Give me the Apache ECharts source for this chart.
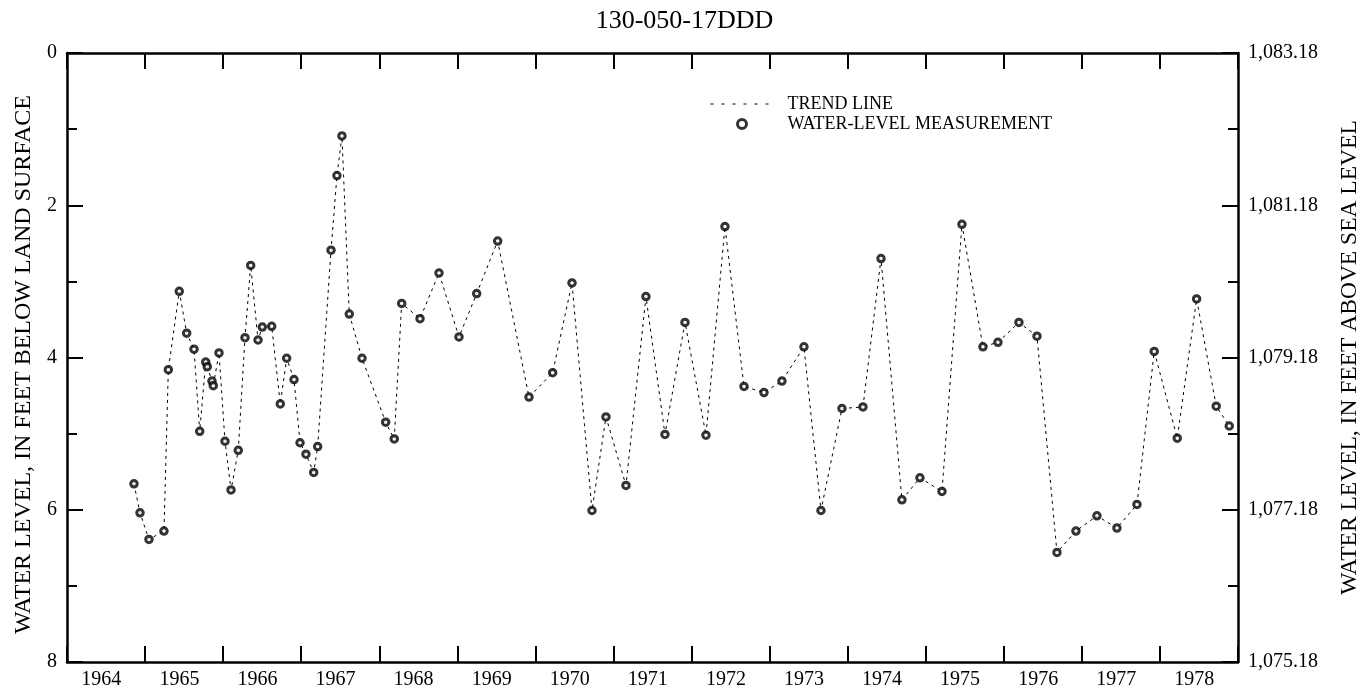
<!DOCTYPE html>
<html>
<head>
<meta charset="utf-8">
<script src="https://cdn.jsdelivr.net/npm/echarts@6/dist/echarts.min.js"></script>
<style>
  html, body { margin: 0; padding: 0; background: #fff; }
  #chart { width: 1369px; height: 694px; }
</style>
</head>
<body>
<div id="chart"></div>
<script>
// well 130-050-17DDD, measurement dates as decimal years
var dates = [
  1964.858, 1964.935, 1965.050, 1965.242, 1965.298, 1965.438, 1965.533, 1965.627,
  1965.700, 1965.777, 1965.797, 1965.857, 1965.874, 1965.947, 1966.024, 1966.101,
  1966.194, 1966.280, 1966.353, 1966.447, 1966.502, 1966.622, 1966.732, 1966.814,
  1966.908, 1966.985, 1967.061, 1967.160, 1967.211, 1967.382, 1967.458, 1967.522,
  1967.616, 1967.779, 1968.082, 1968.192, 1968.287, 1968.522, 1968.765, 1969.021,
  1969.248, 1969.517, 1969.918, 1970.221, 1970.469, 1970.725, 1970.904, 1971.160,
  1971.416, 1971.660, 1971.916, 1972.185, 1972.428, 1972.672, 1972.928, 1973.158,
  1973.440, 1973.658, 1973.927, 1974.196, 1974.427, 1974.695, 1974.926, 1975.208,
  1975.464, 1975.733, 1975.925, 1976.194, 1976.425, 1976.681, 1976.924, 1977.193,
  1977.449, 1977.706, 1977.927, 1978.222, 1978.470, 1978.721, 1978.888
];
// depth to water, feet below land surface
var depths = [
  5.66, 6.04, 6.39, 6.28, 4.16, 3.13, 3.68, 3.89,
  4.97, 4.06, 4.12, 4.31, 4.37, 3.94, 5.10, 5.74,
  5.22, 3.74, 2.79, 3.77, 3.60, 3.59, 4.61, 4.01,
  4.29, 5.12, 5.27, 5.51, 5.17, 2.59, 1.61, 1.09,
  3.43, 4.01, 4.85, 5.07, 3.29, 3.49, 2.89, 3.73,
  3.16, 2.47, 4.52, 4.20, 3.02, 6.01, 4.78, 5.68,
  3.20, 5.01, 3.54, 5.02, 2.28, 4.38, 4.46, 4.31,
  3.86, 6.01, 4.67, 4.65, 2.70, 5.87, 5.58, 5.76,
  2.25, 3.86, 3.80, 3.54, 3.72, 6.56, 6.28, 6.08,
  6.24, 5.93, 3.92, 5.06, 3.23, 4.64, 4.90
];
var yearLabels = [1964, 1965, 1966, 1967, 1968, 1969, 1970, 1971, 1972, 1973, 1974, 1975, 1976, 1977, 1978];
var landSurface = 1083.18; // feet above sea level

var points = dates.map(function (d, i) { return [d, depths[i]]; });

var serif = 'Liberation Serif';

function fmtElev(v) {
  var s = (landSurface - v).toFixed(2);
  var parts = s.split('.');
  parts[0] = parts[0].replace(/\B(?=(\d{3})+(?!\d))/g, ',');
  return parts.join('.');
}

function xAxisOpt(pos, showLabels) {
  return {
    type: 'value',
    position: pos,
    min: 1964,
    max: 1979,
    interval: 1,
    axisLine: { show: true, onZero: false, lineStyle: { color: '#000', width: 2.5 } },
    axisTick: { show: true, inside: true, length: 16, lineStyle: { color: '#000', width: 2 } },
    axisLabel: {
      show: showLabels,
      // labels sit in the middle of each year
      customValues: yearLabels.map(function (y) { return y + 0.44; }),
      formatter: function (v) { return String(Math.floor(v)); },
      fontFamily: serif,
      fontSize: 20,
      color: '#000',
      margin: 8
    },
    splitLine: { show: false }
  };
}

function yAxisOpt(pos, name, gap, size, pad, fmt) {
  return {
    type: 'value',
    position: pos,
    inverse: true,
    min: 0,
    max: 8,
    interval: 2,
    name: name,
    nameLocation: 'middle',
    nameRotate: 90,
    nameGap: gap,
    nameTextStyle: { fontFamily: serif, fontSize: size, color: '#000', padding: pad },
    axisLine: { show: true, onZero: false, lineStyle: { color: '#000', width: 2.5 } },
    axisTick: { show: true, inside: true, length: 16, lineStyle: { color: '#000', width: 2 } },
    minorTick: { show: true, splitNumber: 2, length: 10, lineStyle: { color: '#000', width: 2 } },
    axisLabel: { formatter: fmt, fontFamily: serif, fontSize: 20, color: '#000', margin: 10 },
    splitLine: { show: false }
  };
}

var chart = echarts.init(document.getElementById('chart'));

var option = {
  animation: false,
  backgroundColor: '#fff',
  title: {
    text: '130-050-17DDD',
    left: 'center',
    top: 3,
    textStyle: { fontFamily: serif, fontSize: 26, fontWeight: 'normal', color: '#000' }
  },
  legend: {
    orient: 'vertical',
    left: 710,
    top: 95,
    padding: 0,
    itemWidth: 63,
    itemHeight: 9,
    itemGap: 2,
    selectedMode: false,
    textStyle: { fontFamily: serif, fontSize: 18, lineHeight: 18, color: '#000', padding: [0, 0, 0, 9] },
    data: [
      { name: 'TREND LINE', itemStyle: { opacity: 0 }, lineStyle: { color: '#000', width: 1, type: [3, 8] } },
      { name: 'WATER-LEVEL MEASUREMENT', icon: 'circle', itemStyle: { color: '#fff', borderColor: '#000', borderWidth: 3 } }
    ]
  },
  grid: { left: 67, right: 131, top: 53, bottom: 32, containLabel: false, outerBoundsMode: 'none' },
  xAxis: [xAxisOpt('bottom', true), xAxisOpt('top', false)],
  yAxis: [
    yAxisOpt('left', 'WATER LEVEL, IN FEET BELOW LAND SURFACE', 31, 24, [0, 14, 0, 0], null),
    yAxisOpt('right', 'WATER LEVEL, IN FEET ABOVE SEA LEVEL', 100, 23.5, 0, fmtElev)
  ],
  series: [
    {
      name: 'TREND LINE',
      type: 'line',
      xAxisIndex: 0,
      yAxisIndex: 0,
      data: points,
      symbol: 'none',
      itemStyle: { color: '#000' },
      lineStyle: { color: '#000', width: 1, type: [3, 4] },
      emphasis: { disabled: true },
      z: 2
    },
    {
      name: 'WATER-LEVEL MEASUREMENT',
      type: 'scatter',
      xAxisIndex: 0,
      yAxisIndex: 0,
      data: points,
      symbol: 'circle',
      symbolSize: 6.5,
      itemStyle: { color: '#fff', borderColor: '#000', borderWidth: 3 },
      emphasis: { disabled: true },
      z: 3
    }
  ]
};

chart.setOption(option);
</script>
</body>
</html>
